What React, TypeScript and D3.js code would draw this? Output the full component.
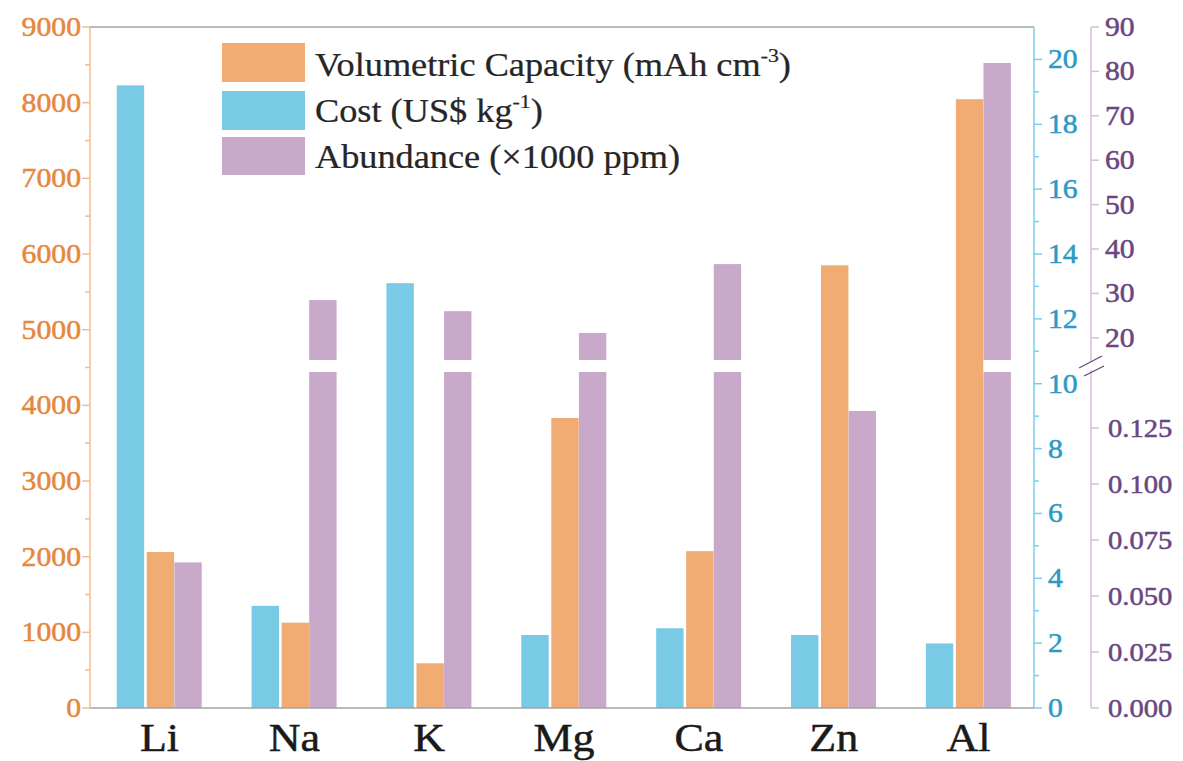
import React from 'react';
import * as d3 from 'd3';

// Metal anode comparison: volumetric capacity, cost and crustal abundance
const categories = ['Li', 'Na', 'K', 'Mg', 'Ca', 'Zn', 'Al'];
const capacity = [2062, 1128, 591, 3833, 2073, 5851, 8046]; // mAh cm^-3
const cost = [19.2, 3.15, 13.1, 2.25, 2.46, 2.25, 1.99]; // US$ kg^-1
const abundance = [0.065, 28.5, 26.0, 21.1, 36.6, 0.1326, 81.9]; // x1000 ppm

const capacityTicks = d3.range(0, 9001, 1000);
const capacityMinor = d3.range(500, 9000, 1000);
const costTicks = d3.range(0, 21, 2);
const costMinor = d3.range(1, 21, 2);
const abundanceLowTicks = [0, 0.025, 0.05, 0.075, 0.1, 0.125];
const abundanceHighTicks = [20, 30, 40, 50, 60, 70, 80, 90];

const COL = {
  capBar: '#F0AC72',
  costBar: '#79CBE5',
  abBar: '#C9A9CA',
  capText: '#E6873C',
  costText: '#2C9AC6',
  abText: '#6B4680',
  capAxis: '#F2BC8E',
  costAxis: '#7ACFE5',
  abAxis: '#D9BEDA',
  frame: '#A3A3A3',
};

const FONT = '"Liberation Serif", "Times New Roman", serif';
const SX = 1.1; // horizontal stretch of the lettering

type LabelProps = {
  x: number;
  y: number;
  size: number;
  fill: string;
  anchor?: 'start' | 'middle' | 'end';
  baseline?: 'central' | 'alphabetic';
  children: React.ReactNode;
  weight?: number;
};

// Text that is slightly widened and thickened with a thin outline
function Label({ x, y, size, fill, anchor = 'start', baseline = 'central', children, weight = 0.5 }: LabelProps) {
  return (
    <text
      transform={`translate(${x},${y}) scale(${SX},1)`}
      textAnchor={anchor}
      dominantBaseline={baseline}
      fontFamily={FONT}
      fontSize={size}
      fill={fill}
      stroke={fill}
      strokeWidth={weight}
    >
      {children}
    </text>
  );
}

export default function App() {
  const W = 1183;
  const H = 761;
  const left = 90;
  const right = 1034;
  const top = 27;
  const bottom = 708;
  const abAxisX = 1091;
  const lowTop = 372; // top of lower abundance segment
  const highBottom = 360; // bottom of upper abundance segment

  const x = d3.scaleBand<string>().domain(categories).range([left, right]);
  const yCap = d3.scaleLinear().domain([0, 9000]).range([bottom, top]);
  const yCost = d3.scaleLinear().domain([0, 21]).range([bottom, top]);
  const yAbLow = d3.scaleLinear().domain([0, 0.15]).range([bottom, lowTop]);
  const yAbHigh = d3.scaleLinear().domain([15, 90]).range([highBottom, top]);

  const bw = 27.4;
  const center = (c: string) => (x(c) as number) + x.bandwidth() / 2;

  const tickFont = 27;
  const legendFont = 33;

  return (
    <svg
      width={W}
      height={H}
      style={{ position: 'absolute', left: 0, top: 0, background: '#fff' }}
      fontFamily={FONT}
    >
      {/* bars */}
      {categories.map((c, i) => {
        const cx = center(c);
        const ab = abundance[i];
        const abX = cx + 16.9;
        return (
          <g key={c}>
            <rect x={cx - 40.7} y={yCost(cost[i])} width={bw} height={bottom - yCost(cost[i])} fill={COL.costBar} />
            <rect x={cx - 10.7} y={yCap(capacity[i])} width={bw} height={bottom - yCap(capacity[i])} fill={COL.capBar} />
            {ab <= 0.15 ? (
              <rect x={abX} y={yAbLow(ab)} width={bw} height={bottom - yAbLow(ab)} fill={COL.abBar} />
            ) : (
              <>
                <rect x={abX} y={lowTop} width={bw} height={bottom - lowTop} fill={COL.abBar} />
                <rect x={abX} y={yAbHigh(ab)} width={bw} height={highBottom - yAbHigh(ab)} fill={COL.abBar} />
              </>
            )}
          </g>
        );
      })}

      {/* frame: top and bottom lines */}
      <line x1={left} x2={right} y1={top} y2={top} stroke={COL.frame} strokeWidth={1.5} />
      <line x1={left} x2={right} y1={bottom} y2={bottom} stroke={COL.frame} strokeWidth={1.5} />

      {/* left axis: volumetric capacity */}
      <line x1={left} x2={left} y1={top} y2={bottom} stroke={COL.capAxis} strokeWidth={1.5} />
      {capacityTicks.map((t) => (
        <g key={'cap' + t}>
          <line x1={left - 8} x2={left} y1={yCap(t)} y2={yCap(t)} stroke={COL.capAxis} strokeWidth={1.5} />
          <Label x={left - 9} y={yCap(t)} size={tickFont} fill={COL.capText} anchor="end">
            {t}
          </Label>
        </g>
      ))}
      {capacityMinor.map((t) => (
        <line key={'capm' + t} x1={left - 5} x2={left} y1={yCap(t)} y2={yCap(t)} stroke={COL.capAxis} strokeWidth={1.5} />
      ))}

      {/* right axis: cost */}
      <line x1={right} x2={right} y1={top} y2={bottom} stroke={COL.costAxis} strokeWidth={1.5} />
      {costTicks.map((t) => (
        <g key={'cost' + t}>
          <line x1={right} x2={right + 8} y1={yCost(t)} y2={yCost(t)} stroke={COL.costAxis} strokeWidth={1.5} />
          <Label x={right + 14} y={yCost(t)} size={tickFont} fill={COL.costText}>
            {t}
          </Label>
        </g>
      ))}
      {costMinor.map((t) => (
        <line key={'costm' + t} x1={right} x2={right + 5} y1={yCost(t)} y2={yCost(t)} stroke={COL.costAxis} strokeWidth={1.5} />
      ))}

      {/* far right axis: abundance, with a break */}
      <line x1={abAxisX} x2={abAxisX} y1={top} y2={highBottom + 2} stroke={COL.abAxis} strokeWidth={1.5} />
      <line x1={abAxisX} x2={abAxisX} y1={lowTop - 2} y2={bottom} stroke={COL.abAxis} strokeWidth={1.5} />
      <line x1={abAxisX - 12} x2={abAxisX + 11} y1={highBottom + 8} y2={highBottom - 4} stroke={COL.abText} strokeWidth={1.3} />
      <line x1={abAxisX - 7} x2={abAxisX + 13} y1={lowTop + 4} y2={lowTop - 6} stroke={COL.abText} strokeWidth={1.3} />
      {abundanceHighTicks.map((t) => (
        <g key={'abh' + t}>
          <line x1={abAxisX} x2={abAxisX + 8} y1={yAbHigh(t)} y2={yAbHigh(t)} stroke={COL.abAxis} strokeWidth={1.5} />
          <Label x={abAxisX + 14} y={yAbHigh(t)} size={tickFont} fill={COL.abText}>
            {t}
          </Label>
        </g>
      ))}
      {abundanceLowTicks.map((t) => (
        <g key={'abl' + t}>
          <line x1={abAxisX} x2={abAxisX + 8} y1={yAbLow(t)} y2={yAbLow(t)} stroke={COL.abAxis} strokeWidth={1.5} />
          <Label x={abAxisX + 17} y={yAbLow(t)} size={tickFont - 1} fill={COL.abText}>
            {d3.format('.3f')(t)}
          </Label>
        </g>
      ))}

      {/* category labels */}
      {categories.map((c) => (
        <Label
          key={'lab' + c}
          x={center(c) + 2}
          y={751}
          size={40}
          fill="#1a1a1a"
          anchor="middle"
          baseline="alphabetic"
          weight={0.5}
        >
          {c}
        </Label>
      ))}

      {/* legend */}
      <rect x={222} y={43} width={83} height={39} fill={COL.capBar} />
      <rect x={222} y={91} width={83} height={39} fill={COL.costBar} />
      <rect x={222} y={137} width={83} height={38} fill={COL.abBar} />
      <g fill="#262626" stroke="#262626" strokeWidth={0.25} fontSize={legendFont}>
        <text transform={`translate(315,76) scale(${SX},1)`}>
          Volumetric Capacity (mAh cm
          <tspan fontSize={legendFont * 0.6} dy={-14}>-3</tspan>
          <tspan dy={14}>)</tspan>
        </text>
        <text transform={`translate(315,122) scale(${SX},1)`}>
          Cost (US$ kg
          <tspan fontSize={legendFont * 0.6} dy={-14}>-1</tspan>
          <tspan dy={14}>)</tspan>
        </text>
        <text transform={`translate(315,168) scale(${SX},1)`}>Abundance (×1000 ppm)</text>
      </g>
    </svg>
  );
}
